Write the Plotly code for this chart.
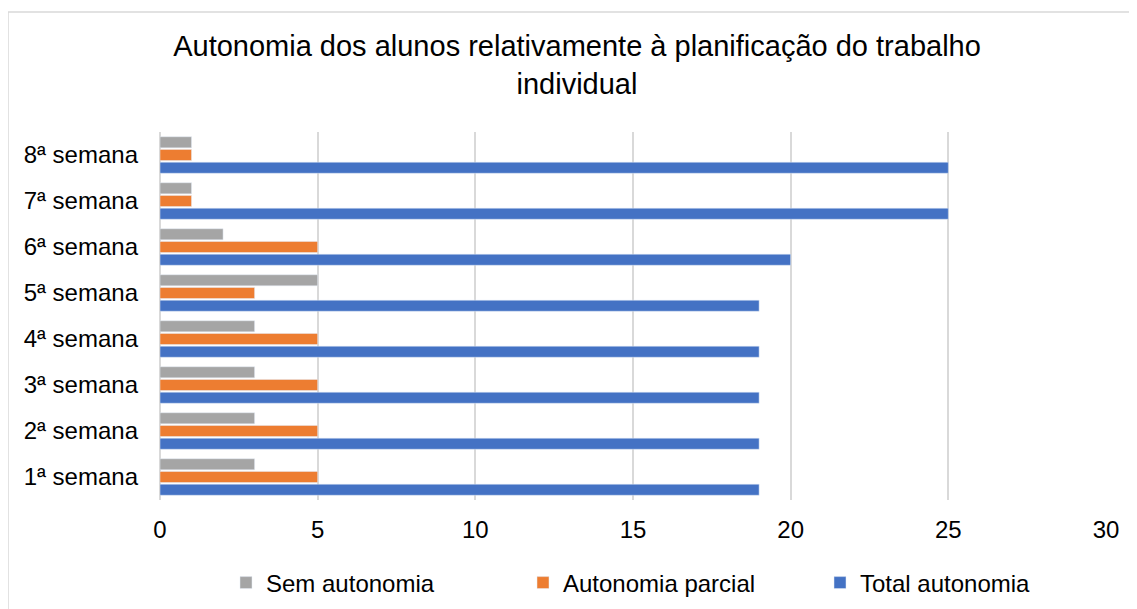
import plotly.graph_objects as go

categories = ["1ª semana", "2ª semana", "3ª semana", "4ª semana",
              "5ª semana", "6ª semana", "7ª semana", "8ª semana"]
sem_autonomia = [3, 3, 3, 3, 5, 2, 1, 1]
autonomia_parcial = [5, 5, 5, 5, 3, 5, 1, 1]
total_autonomia = [19, 19, 19, 19, 19, 20, 25, 25]
x_ticks = [0, 5, 10, 15, 20, 25, 30]

FONT = "Liberation Sans, Arial, sans-serif"

fig = go.Figure()
fig.add_trace(go.Bar(y=categories, x=total_autonomia, orientation="h",
                     name="Total autonomia", marker_color="#4472C4"))
fig.add_trace(go.Bar(y=categories, x=autonomia_parcial, orientation="h",
                     name="Autonomia parcial", marker_color="#ED7D31"))
fig.add_trace(go.Bar(y=categories, x=sem_autonomia, orientation="h",
                     name="Sem autonomia", marker_color="#A5A5A5"))

OFF = 8  # page body margin
W, H = 1137, 609
# target plot area in page pixels: x 160..1106, y 132..500
L = 160 - OFF
T = 132 - OFF
R = W - (1106 - OFF)
B = H - (500 - OFF)
pw, ph = W - L - R, H - T - B

def px_x(p):
    return (p - OFF - L) / pw

def px_y(p):
    return (H - B - (p - OFF)) / ph

fig.update_layout(
    width=W, height=H,
    margin=dict(l=L, r=R, t=T, b=B, autoexpand=False),
    paper_bgcolor="white", plot_bgcolor="white",
    font=dict(family=FONT, size=24, color="#000000"),
    barmode="group", bargap=0.17, bargroupgap=0.13,
    title=dict(text="Autonomia dos alunos relativamente à planificação do trabalho<br>individual",
               x=(577 - OFF) / W, xanchor="center", xref="container",
               y=1 - (56 - OFF) / H, yanchor="middle", yref="container",
               font=dict(family=FONT, size=29, color="#000000")),
    xaxis=dict(range=[0, 30], tickvals=x_ticks, showgrid=True,
               gridcolor="#d9d9d9", gridwidth=1.5, zeroline=True,
               zerolinecolor="#d9d9d9", zerolinewidth=1.5,
               showline=False, ticks="", ticklabelstandoff=13,
               fixedrange=True),
    yaxis=dict(categoryorder="array", categoryarray=categories,
               showgrid=False, zeroline=False, showline=False, ticks="",
               ticklabelstandoff=21, fixedrange=True),
    legend=dict(orientation="h", traceorder="reversed",
                x=px_x(226), xanchor="left", y=px_y(583), yanchor="middle",
                entrywidth=252, entrywidthmode="pixels", itemwidth=30,
                font=dict(family=FONT, size=24, color="#000000"),
                bgcolor="rgba(0,0,0,0)"),
    shapes=[dict(type="rect", xref="paper", yref="paper",
                 x0=px_x(8), x1=px_x(1145), y0=px_y(620), y1=px_y(12),
                 line=dict(color="#d9d9d9", width=1.5), layer="below")],
    showlegend=True,
)

fig.write_html("out.html")
